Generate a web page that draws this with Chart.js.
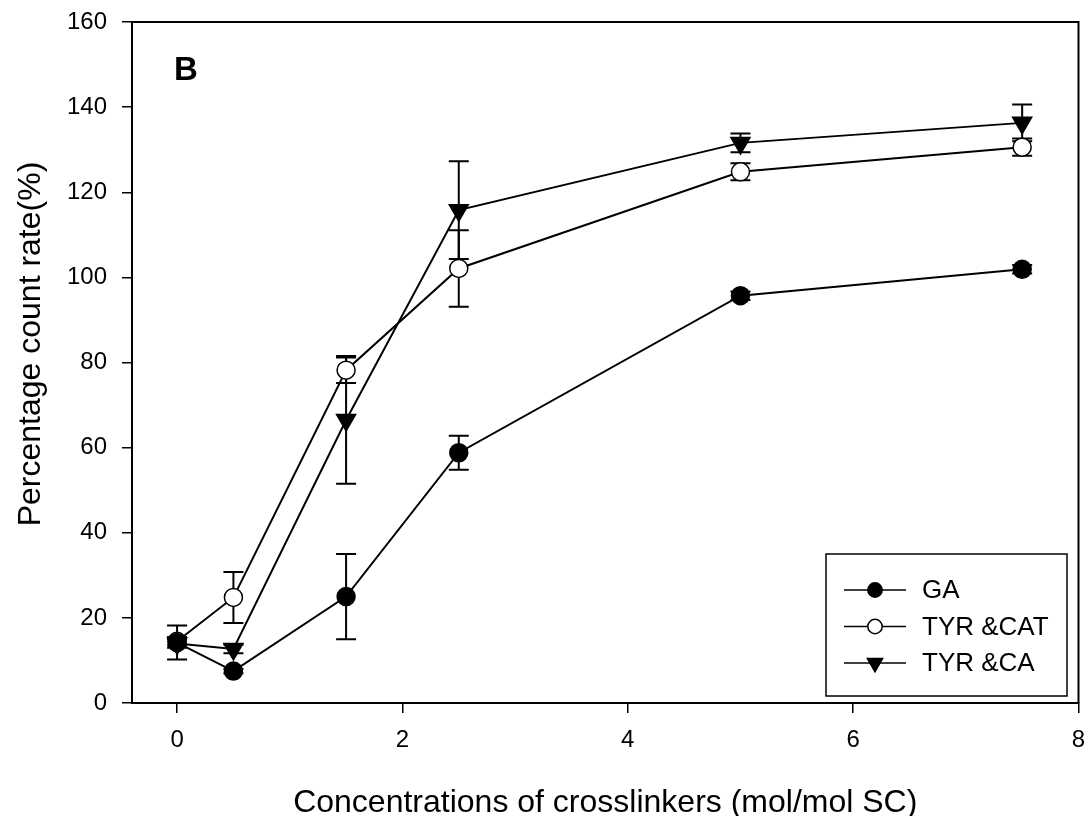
<!DOCTYPE html>
<html>
<head>
<meta charset="utf-8">
<script src="https://cdn.jsdelivr.net/npm/chart.js@4/dist/chart.umd.min.js"></script>
<style>
  body { margin: 0; background: #fff; }
  #wrap { width: 1091px; height: 816px; position: relative; }
</style>
</head>
<body>
<div id="wrap"><canvas id="countChart"></canvas></div>
<script>
// crosslinker concentrations (mol/mol SC)
const concentrations = [0, 0.5, 1.5, 2.5, 5, 7.5];

const gaValues = [14.2, 7.5, 25.0, 58.8, 95.7, 101.9];
const gaErrors = [4.0, 0.5, 10.0, 4.0, 1.0, 1.0];

const catValues = [14.5, 24.8, 78.2, 102.1, 124.8, 130.6];
const catErrors = [1.0, 6.0, 3.0, 9.0, 2.0, 2.0];

const caValues = [14.0, 12.7, 66.5, 115.8, 131.6, 136.3];
const caErrors = [1.0, 1.0, 15.0, 11.5, 2.2, 4.3];

const xTicks = [0, 2, 4, 6, 8];
const yTicks = [0, 20, 40, 60, 80, 100, 120, 140, 160];

const FONT = "'Liberation Sans', Arial, sans-serif";

function toPoints(values) {
    return values.map((v, i) => ({ x: concentrations[i], y: v }));
}

// vertical error bars with caps, drawn under the markers
const errorBars = {
    id: 'errorBars',
    beforeDatasetsDraw(chart) {
        const ctx = chart.ctx;
        const xs = chart.scales.x, ys = chart.scales.y;
        ctx.save();
        ctx.strokeStyle = '#000';
        ctx.lineWidth = 2;
        chart.data.datasets.forEach(ds => {
            ds.data.forEach((p, i) => {
                const err = ds.errors[i];
                const px = xs.getPixelForValue(p.x);
                const top = ys.getPixelForValue(p.y + err);
                const bot = ys.getPixelForValue(p.y - err);
                ctx.beginPath();
                ctx.moveTo(px, top); ctx.lineTo(px, bot);
                ctx.moveTo(px - 10, top); ctx.lineTo(px + 10, top);
                ctx.moveTo(px - 10, bot); ctx.lineTo(px + 10, bot);
                ctx.stroke();
            });
        });
        ctx.restore();
    }
};

// frame, y title, panel letter and boxed legend
const decorations = {
    id: 'decorations',
    afterDraw(chart) {
        const ctx = chart.ctx;
        const a = chart.chartArea;
        ctx.save();
        ctx.strokeStyle = '#000';
        ctx.lineWidth = 2;
        ctx.beginPath();
        ctx.moveTo(a.left, a.top); ctx.lineTo(a.right, a.top); ctx.lineTo(a.right, a.bottom);
        ctx.stroke();

        ctx.fillStyle = '#000';
        ctx.textBaseline = 'middle';

        // y axis title, sitting a little above the middle of the axis
        ctx.save();
        ctx.translate(31, 344);
        ctx.rotate(-Math.PI / 2);
        ctx.textAlign = 'center';
        ctx.font = '32px ' + FONT;
        ctx.fillText('Percentage count rate(%)', 0, 0);
        ctx.restore();

        ctx.font = 'bold 33px ' + FONT;
        ctx.textAlign = 'left';
        ctx.fillText('B', a.left + 42, a.top + 49);

        // legend box
        const bx = 826, by = 554, bw = 241, bh = 142;
        ctx.lineWidth = 1.5;
        ctx.strokeRect(bx, by, bw, bh);
        ctx.font = '26px ' + FONT;
        chart.data.datasets.forEach((ds, i) => {
            const y = by + 36 + i * 36.5;
            ctx.strokeStyle = '#000';
            ctx.lineWidth = 1.5;
            ctx.beginPath();
            ctx.moveTo(bx + 18, y); ctx.lineTo(bx + 80, y);
            ctx.stroke();
            ctx.fillStyle = ds.pointBackgroundColor;
            ctx.strokeStyle = '#000';
            Chart.helpers.drawPoint(ctx, {
                pointStyle: ds.pointStyle,
                rotation: ds.pointRotation || 0,
                radius: ds.pointRadius * 0.8,
                borderWidth: 1.5
            }, bx + 49, y);
            ctx.fillStyle = '#000';
            ctx.fillText(ds.label, bx + 96, y + 1);
        });
        ctx.restore();
    }
};

new Chart(document.getElementById('countChart'), {
    type: 'line',
    data: {
        datasets: [{
            label: 'GA',
            data: toPoints(gaValues),
            errors: gaErrors,
            borderColor: '#000',
            borderWidth: 2,
            pointStyle: 'circle',
            pointRadius: 9,
            pointBackgroundColor: '#000',
            pointBorderColor: '#000',
            pointBorderWidth: 1.5
        }, {
            label: 'TYR &CAT',
            data: toPoints(catValues),
            errors: catErrors,
            borderColor: '#000',
            borderWidth: 2,
            pointStyle: 'circle',
            pointRadius: 9,
            pointBackgroundColor: '#fff',
            pointBorderColor: '#000',
            pointBorderWidth: 1.5
        }, {
            label: 'TYR &CA',
            data: toPoints(caValues),
            errors: caErrors,
            borderColor: '#000',
            borderWidth: 2,
            pointStyle: 'triangle',
            pointRotation: 180,
            pointRadius: 11,
            pointBackgroundColor: '#000',
            pointBorderColor: '#000',
            pointBorderWidth: 1.5
        }]
    },
    options: {
        responsive: true,
        maintainAspectRatio: false,
        animation: false,
        layout: { padding: { left: 0, top: 22, right: 10, bottom: 0 } },
        plugins: {
            legend: { display: false },
            tooltip: { enabled: false }
        },
        scales: {
            x: {
                type: 'linear',
                min: -0.4,
                max: 8,
                afterBuildTicks: scale => { scale.ticks = xTicks.map(v => ({ value: v })); },
                afterFit: scale => {
                    scale.height = 113;
                    scale.paddingLeft = 0;
                    scale.paddingRight = 0;
                },
                border: { display: true, color: '#000', width: 2 },
                grid: { display: true, drawOnChartArea: false, drawTicks: true, tickLength: 10, color: '#000', lineWidth: 1.5 },
                ticks: { color: '#000', padding: 13, font: { family: FONT, size: 24 } },
                title: {
                    display: true,
                    text: 'Concentrations of crosslinkers (mol/mol SC)',
                    color: '#000',
                    font: { family: FONT, size: 32, lineHeight: 0.8 },
                    padding: { top: 0, bottom: 0 }
                }
            },
            y: {
                min: 0,
                max: 160,
                afterBuildTicks: scale => { scale.ticks = yTicks.map(v => ({ value: v })); },
                afterFit: scale => {
                    scale.width = 132;
                    scale.paddingTop = 0;
                    scale.paddingBottom = 0;
                },
                border: { display: true, color: '#000', width: 2 },
                grid: { display: true, drawOnChartArea: false, drawTicks: true, tickLength: 10, color: '#000', lineWidth: 1.5 },
                ticks: { color: '#000', padding: 15, font: { family: FONT, size: 24 } },
                title: { display: false }
            }
        }
    },
    plugins: [errorBars, decorations]
});
</script>
</body>
</html>
